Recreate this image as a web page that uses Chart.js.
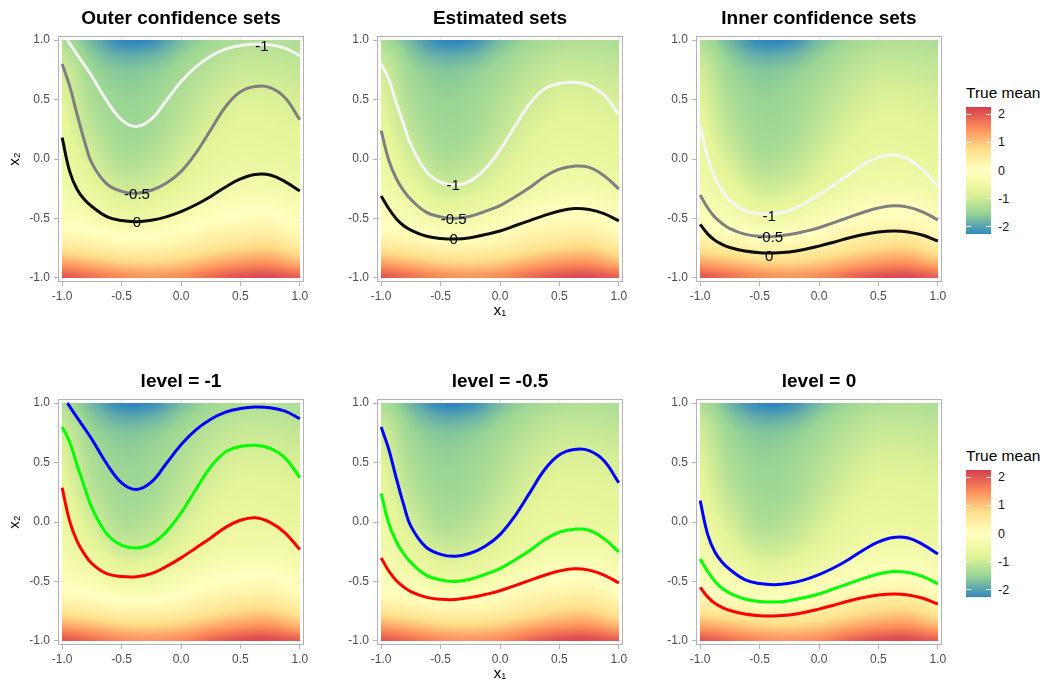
<!DOCTYPE html>
<html>
<head>
<meta charset="utf-8">
<script src="https://cdn.jsdelivr.net/npm/chart.js@4.4.1/dist/chart.umd.min.js"></script>
<style>
  body { margin: 0; background: #fff; width: 1047px; height: 679px; position: relative; overflow: hidden;
         font-family: "Liberation Sans", Arial, sans-serif; }
  canvas { position: absolute; }
  .leg-title { position: absolute; font-size: 15.5px; color: #000; line-height: 18px; white-space: nowrap; }
  .leg-bar { position: absolute; width: 25px; }
  .leg-lab { position: absolute; font-size: 12.5px; color: #1a1a1a; line-height: 14px; }
  .leg-tick { position: absolute; width: 5px; height: 1px; background: rgba(255,255,255,0.85); }
</style>
</head>
<body>
<canvas id="p1" width="316" height="320" style="left:0px;top:0px"></canvas>
<canvas id="p2" width="316" height="320" style="left:319px;top:0px"></canvas>
<canvas id="p3" width="316" height="320" style="left:638px;top:0px"></canvas>
<canvas id="p4" width="316" height="320" style="left:0px;top:363px"></canvas>
<canvas id="p5" width="316" height="320" style="left:319px;top:363px"></canvas>
<canvas id="p6" width="316" height="320" style="left:638px;top:363px"></canvas>
<div id="legends"></div>

<script>
// ---- true mean (rows follow gridY, columns follow gridX)
const gridX = [-1, -0.75, -0.5, -0.25, 0, 0.25, 0.5, 0.75, 1];
const gridY = [1, 0.875, 0.75, 0.5, 0.25, 0, -0.25, -0.5, -0.625, -0.75, -0.875, -1];
const trueMean = [
  [-1.30, -1.80, -2.25, -2.20, -1.75, -1.45, -1.30, -1.25, -1.30],
  [-1.10, -1.60, -1.90, -1.85, -1.55, -1.30, -1.15, -1.15, -1.20],
  [-0.95, -1.45, -1.65, -1.60, -1.40, -1.18, -1.03, -1.03, -1.08],
  [-0.80, -1.30, -1.50, -1.45, -1.25, -1.00, -0.85, -0.85, -0.90],
  [-0.68, -1.15, -1.42, -1.38, -1.12, -0.85, -0.72, -0.74, -0.78],
  [-0.55, -0.92, -1.28, -1.20, -0.92, -0.68, -0.58, -0.60, -0.65],
  [-0.38, -0.64, -0.95, -0.90, -0.68, -0.48, -0.35, -0.35, -0.45],
  [-0.15, -0.25, -0.50, -0.45, -0.25, -0.05, 0.05, 0.08, -0.12],
  [0.15, 0.05, -0.10, -0.10, 0.05, 0.25, 0.35, 0.40, 0.15],
  [0.60, 0.45, 0.30, 0.30, 0.40, 0.60, 0.80, 0.85, 0.55],
  [1.30, 1.10, 0.90, 0.85, 0.95, 1.20, 1.40, 1.45, 1.15],
  [2.05, 1.80, 1.55, 1.45, 1.55, 1.85, 2.10, 2.15, 1.95]
];
const fillMin = -2.25, fillMax = 2.25;
// Spectral, low to high
const spectral = ["#3288BD", "#99D594", "#E6F598", "#FFFFBF", "#FEE08B", "#FC8D59", "#D53E4F"];
const legendTicks = [2, 1, 0, -1, -2];

// ---- contour curves, x2 read at these x1 positions (denser near the steep left end)
const curveX = [-1, -0.9375, -0.875, -0.8125, -0.75, -0.625, -0.5, -0.375, -0.25, -0.125, 0, 0.125, 0.25, 0.375, 0.5, 0.625, 0.75, 0.875, 1];
const outerM1 = [null, 0.973, 0.88, 0.79, 0.696, 0.49, 0.33, 0.274, 0.335, 0.49, 0.65, 0.775, 0.865, 0.925, 0.955, 0.968, 0.962, 0.933, 0.87];
const outerM05 = [0.8, 0.617, 0.378, 0.152, -0.035, -0.21, -0.272, -0.288, -0.263, -0.204, -0.106, 0.05, 0.245, 0.44, 0.565, 0.61, 0.6, 0.515, 0.33];
const outer0 = [0.18, -0.102, -0.255, -0.341, -0.4, -0.485, -0.518, -0.527, -0.515, -0.487, -0.443, -0.385, -0.315, -0.235, -0.168, -0.13, -0.135, -0.19, -0.269];

const estM1 = [0.8, 0.675, 0.48, 0.296, 0.12, -0.1, -0.195, -0.218, -0.184, -0.083, 0.077, 0.274, 0.465, 0.59, 0.635, 0.646, 0.62, 0.54, 0.373];
const estM05 = [0.238, -0.005, -0.16, -0.265, -0.34, -0.445, -0.487, -0.5, -0.482, -0.44, -0.392, -0.32, -0.24, -0.15, -0.085, -0.06, -0.07, -0.14, -0.252];
const est0 = [-0.311, -0.415, -0.5, -0.56, -0.598, -0.648, -0.668, -0.674, -0.662, -0.636, -0.606, -0.562, -0.518, -0.474, -0.437, -0.417, -0.425, -0.46, -0.52];

const innerM1 = [0.288, 0.01, -0.16, -0.27, -0.35, -0.435, -0.458, -0.46, -0.435, -0.375, -0.302, -0.218, -0.134, -0.045, 0.015, 0.035, -0.003, -0.091, -0.232];
const innerM05 = [-0.302, -0.41, -0.49, -0.545, -0.585, -0.632, -0.65, -0.652, -0.636, -0.61, -0.578, -0.535, -0.491, -0.448, -0.412, -0.393, -0.405, -0.446, -0.513];
const inner0 = [-0.55, -0.63, -0.685, -0.72, -0.745, -0.775, -0.788, -0.79, -0.782, -0.762, -0.733, -0.7, -0.665, -0.636, -0.615, -0.606, -0.614, -0.642, -0.69];
// the outer -1 curve enters through the top edge
const outerM1Start = [-0.955, 1.0];

// contour text labels [x1, x2, text]
const outerLabels = [[0.68, 0.945, "-1"], [-0.37, -0.30, "-0.5"], [-0.37, -0.54, "0"]];
const estLabels = [[-0.395, -0.23, "-1"], [-0.39, -0.51, "-0.5"], [-0.39, -0.68, "0"]];
const innerLabels = [[-0.42, -0.485, "-1"], [-0.41, -0.665, "-0.5"], [-0.42, -0.82, "0"]];

const tickVals = [-1, -0.75, -0.5, -0.25, 0, 0.25, 0.5, 0.75, 1];
const FONT = "'Liberation Sans', Arial, sans-serif";

function hexRgb(h) {
  return [parseInt(h.slice(1, 3), 16), parseInt(h.slice(3, 5), 16), parseInt(h.slice(5, 7), 16)];
}
const palRgb = spectral.map(hexRgb);

function colorFor(v) {
  let t = (v - fillMin) / (fillMax - fillMin);
  t = Math.max(0, Math.min(1, t)) * (palRgb.length - 1);
  const i = Math.min(Math.floor(t), palRgb.length - 2);
  const f = t - i;
  const a = palRgb[i], b = palRgb[i + 1];
  return [a[0] + (b[0] - a[0]) * f, a[1] + (b[1] - a[1]) * f, a[2] + (b[2] - a[2]) * f];
}

// fractional position of v inside a monotone grid
function fracIndex(grid, v) {
  const desc = grid[0] > grid[grid.length - 1];
  for (let i = 0; i < grid.length - 1; i++) {
    const lo = grid[i], hi = grid[i + 1];
    const inside = desc ? (v <= lo && v >= hi) : (v >= lo && v <= hi);
    if (inside) return i + (v - lo) / (hi - lo);
  }
  return (desc ? v > grid[0] : v < grid[0]) ? 0 : grid.length - 1;
}

function cr(p0, p1, p2, p3, t) {
  return 0.5 * (2 * p1 + (p2 - p0) * t + (2 * p0 - 5 * p1 + 4 * p2 - p3) * t * t + (3 * p1 - p0 - 3 * p2 + p3) * t * t * t);
}

function sample(fx, fy) {
  const nx = gridX.length, ny = gridY.length;
  const cx = (i) => Math.max(0, Math.min(nx - 1, i));
  const cy = (j) => Math.max(0, Math.min(ny - 1, j));
  const i = Math.min(Math.floor(fx), nx - 2), j = Math.min(Math.floor(fy), ny - 2);
  const tx = fx - i, ty = fy - j;
  const rows = [];
  for (let k = -1; k <= 2; k++) {
    const r = trueMean[cy(j + k)];
    rows.push(cr(r[cx(i - 1)], r[cx(i)], r[cx(i + 1)], r[cx(i + 2)], tx));
  }
  return cr(rows[0], rows[1], rows[2], rows[3], ty);
}

const heatmapPlugin = {
  id: "heatmap",
  beforeDatasetsDraw(chart) {
    const { ctx, scales: { x, y } } = chart;
    const x0 = Math.round(x.getPixelForValue(-1)), x1 = Math.round(x.getPixelForValue(1));
    const y0 = Math.round(y.getPixelForValue(1)), y1 = Math.round(y.getPixelForValue(-1));
    const w = x1 - x0, h = y1 - y0;
    const off = document.createElement("canvas");
    off.width = w; off.height = h;
    const octx = off.getContext("2d");
    const img = octx.createImageData(w, h);
    const fxs = [];
    for (let px = 0; px < w; px++) fxs.push(fracIndex(gridX, x.getValueForPixel(x0 + px + 0.5)));
    for (let py = 0; py < h; py++) {
      const fy = fracIndex(gridY, y.getValueForPixel(y0 + py + 0.5));
      for (let px = 0; px < w; px++) {
        const c = colorFor(sample(fxs[px], fy));
        const k = (py * w + px) * 4;
        img.data[k] = c[0]; img.data[k + 1] = c[1]; img.data[k + 2] = c[2]; img.data[k + 3] = 255;
      }
    }
    octx.putImageData(img, 0, 0);
    ctx.drawImage(off, x0, y0);
  }
};

const framePlugin = {
  id: "frame",
  afterDatasetsDraw(chart) {
    const { ctx, chartArea: a } = chart;
    ctx.save();
    ctx.strokeStyle = "#B3B3B3";
    ctx.lineWidth = 1;
    ctx.strokeRect(a.left + 0.5, a.top + 0.5, a.right - a.left - 1, a.bottom - a.top - 1);
    ctx.restore();
  }
};

const contourLabelPlugin = {
  id: "contourLabels",
  afterDatasetsDraw(chart, args, opts) {
    if (!opts.items) return;
    const { ctx, scales: { x, y } } = chart;
    ctx.save();
    ctx.font = "15px " + FONT;
    ctx.fillStyle = "#000";
    ctx.textAlign = "center";
    ctx.textBaseline = "middle";
    opts.items.forEach(([vx, vy, txt]) => {
      ctx.fillText(txt, x.getPixelForValue(vx), y.getPixelForValue(vy));
    });
    ctx.restore();
  }
};

const isMajor = (v) => Math.abs(v * 2 - Math.round(v * 2)) < 1e-6;

function axis(isX, titleText) {
  return {
    type: "linear",
    min: -1.035,
    max: 1.035,
    afterBuildTicks: (s) => { s.ticks = tickVals.map((v) => ({ value: v })); },
    afterFit: (s) => { if (isX) s.height = 38; else s.width = 58; },
    ticks: {
      autoSkip: false,
      maxRotation: 0,
      padding: isX ? 3 : 4,
      color: "#4D4D4D",
      font: { size: 12, family: FONT },
      callback: (v) => (isMajor(v) ? v.toFixed(1) : "")
    },
    grid: {
      color: (c) => (isMajor(c.tick.value) ? "#EBEBEB" : "#F4F4F4"),
      lineWidth: (c) => (isMajor(c.tick.value) ? 1 : 0.6),
      tickColor: (c) => (isMajor(c.tick.value) ? "#B3B3B3" : "rgba(0,0,0,0)"),
      tickLength: 4
    },
    border: { display: false },
    title: {
      display: !!titleText,
      text: titleText || "",
      color: "#000",
      font: { size: 15, family: FONT },
      padding: isX ? { top: 0, bottom: 0 } : { top: 6, bottom: 0 }
    }
  };
}

function toPoints(ys) {
  const pts = [];
  ys.forEach((v, i) => { if (v !== null) pts.push({ x: curveX[i], y: v }); });
  return pts;
}

function makePanel(id, title, curves, colors, labels, yTitle, xTitle) {
  new Chart(document.getElementById(id), {
    type: "scatter",
    data: {
      datasets: curves.map((pts, i) => ({
        data: pts,
        showLine: true,
        borderColor: colors[i],
        borderWidth: 3,
        pointRadius: 0,
        tension: 0.4,
        fill: false
      }))
    },
    options: {
      responsive: false,
      animation: false,
      events: [],
      layout: { padding: { left: 0, right: 12, top: 0, bottom: 0 } },
      plugins: {
        legend: { display: false },
        tooltip: { enabled: false },
        title: {
          display: true,
          text: title,
          fullSize: false,
          color: "#000",
          font: { size: 19, weight: "bold", family: FONT },
          padding: { top: 7, bottom: 6.2 }
        },
        contourLabels: { items: labels }
      },
      scales: { x: axis(true, xTitle), y: axis(false, yTitle) }
    },
    plugins: [heatmapPlugin, framePlugin, contourLabelPlugin]
  });
}

const oM1 = [{ x: outerM1Start[0], y: outerM1Start[1] }].concat(toPoints(outerM1));
const oM05 = toPoints(outerM05), o0 = toPoints(outer0);
const eM1 = toPoints(estM1), eM05 = toPoints(estM05), e0 = toPoints(est0);
const iM1 = toPoints(innerM1), iM05 = toPoints(innerM05), i0 = toPoints(inner0);

const setColors = ["#F5F5F5", "#7F7F7F", "#0D0D0D"];
const levelColors = ["#0000FF", "#00FF00", "#FF0000"];

makePanel("p1", "Outer confidence sets", [oM1, oM05, o0], setColors, outerLabels, "x\u2082", null);
makePanel("p2", "Estimated sets", [eM1, eM05, e0], setColors, estLabels, null, "x\u2081");
makePanel("p3", "Inner confidence sets", [iM1, iM05, i0], setColors, innerLabels, null, null);
makePanel("p4", "level = -1", [oM1, eM1, iM1], levelColors, null, "x\u2082", null);
makePanel("p5", "level = -0.5", [oM05, eM05, iM05], levelColors, null, null, "x\u2081");
makePanel("p6", "level = 0", [o0, e0, i0], levelColors, null, null, null);

// ---- colour bar legends
function makeLegend(top) {
  const root = document.getElementById("legends");
  const barTop = top + 23, barH = 127, left = 966;
  const t = document.createElement("div");
  t.className = "leg-title";
  t.style.left = left + "px";
  t.style.top = top + "px";
  t.textContent = "True mean";
  root.appendChild(t);
  const bar = document.createElement("div");
  bar.className = "leg-bar";
  bar.style.left = left + "px";
  bar.style.top = barTop + "px";
  bar.style.height = barH + "px";
  bar.style.background = "linear-gradient(to top, " + spectral.join(", ") + ")";
  root.appendChild(bar);
  legendTicks.forEach((v) => {
    const py = barTop + (fillMax - v) / (fillMax - fillMin) * barH;
    [left, left + 20].forEach((lx) => {
      const tk = document.createElement("div");
      tk.className = "leg-tick";
      tk.style.left = lx + "px";
      tk.style.top = Math.round(py - 0.5) + "px";
      root.appendChild(tk);
    });
    const lab = document.createElement("div");
    lab.className = "leg-lab";
    lab.style.left = (left + 32) + "px";
    lab.style.top = (py - 7) + "px";
    lab.textContent = String(v);
    root.appendChild(lab);
  });
}
makeLegend(84);
makeLegend(447);
</script>
</body>
</html>
